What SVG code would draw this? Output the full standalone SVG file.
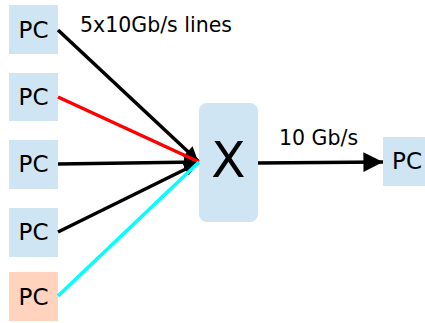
<svg xmlns="http://www.w3.org/2000/svg" width="425" height="323" viewBox="0 0 425 323">
<style>
.pc{fill:#cfe5f3}
.pco{fill:#ffd3bd}
.t{font-family:"DejaVu Sans",sans-serif;fill:#000}
.pct{font-size:23px;text-anchor:middle}
.lbl{font-size:20.5px}
.ln{stroke-width:3.5;fill:none}
</style>
<defs>
<marker id="ah" viewBox="0 0 10 10" refX="10" refY="5" markerWidth="5" markerHeight="4" markerUnits="strokeWidth" orient="auto">
<path d="M0,0 L10,5 L0,10 z" fill="#000"/>
</marker>
<marker id="ah2" viewBox="0 0 10 10" refX="10" refY="5" markerWidth="8" markerHeight="5.6" markerUnits="strokeWidth" orient="auto">
<path d="M0,0 L10,5 L0,10 z" fill="#000"/>
</marker>
</defs>
<g id="pc1"><rect class="pc" x="9" y="5" width="49" height="49"/><text class="t pct" x="33.5" y="38">PC</text></g>
<g id="pc2"><rect class="pc" x="9" y="73" width="49" height="48"/><text class="t pct" x="33.5" y="105">PC</text></g>
<g id="pc3"><rect class="pc" x="9" y="140" width="49" height="49"/><text class="t pct" x="33.5" y="172">PC</text></g>
<g id="pc4"><rect class="pc" x="9" y="208" width="49" height="49"/><text class="t pct" x="33.5" y="240">PC</text></g>
<g id="pc5"><rect class="pco" x="9" y="272" width="49" height="49"/><text class="t pct" x="33.5" y="305">PC</text></g>
<g id="switch"><rect class="pc" x="199" y="103" width="59" height="119" rx="8"/><text class="t" x="228.5" y="177" font-size="50" text-anchor="middle">X</text></g>
<g id="pc6"><rect class="pc" x="383" y="137" width="49" height="49"/><text class="t pct" x="407" y="169">PC</text></g>
<g id="connectors">
<line class="ln" stroke="#000" x1="58" y1="30" x2="198" y2="161" marker-end="url(#ah)"/>
<line class="ln" stroke="#000" x1="58" y1="164" x2="198" y2="162" marker-end="url(#ah)"/>
<line class="ln" stroke="#000" x1="58" y1="232" x2="198" y2="163" marker-end="url(#ah)"/>
<line class="ln" stroke="#f00" x1="58" y1="97" x2="199" y2="162"/>
<line class="ln" stroke="#0ff" x1="58" y1="296" x2="199" y2="162"/>
<line class="ln" stroke="#000" x1="258" y1="163" x2="383" y2="162" marker-end="url(#ah2)"/>
</g>
<text class="t lbl" x="80" y="32">5x10Gb/s lines</text>
<text class="t lbl" x="279" y="145">10 Gb/s</text>
</svg>
